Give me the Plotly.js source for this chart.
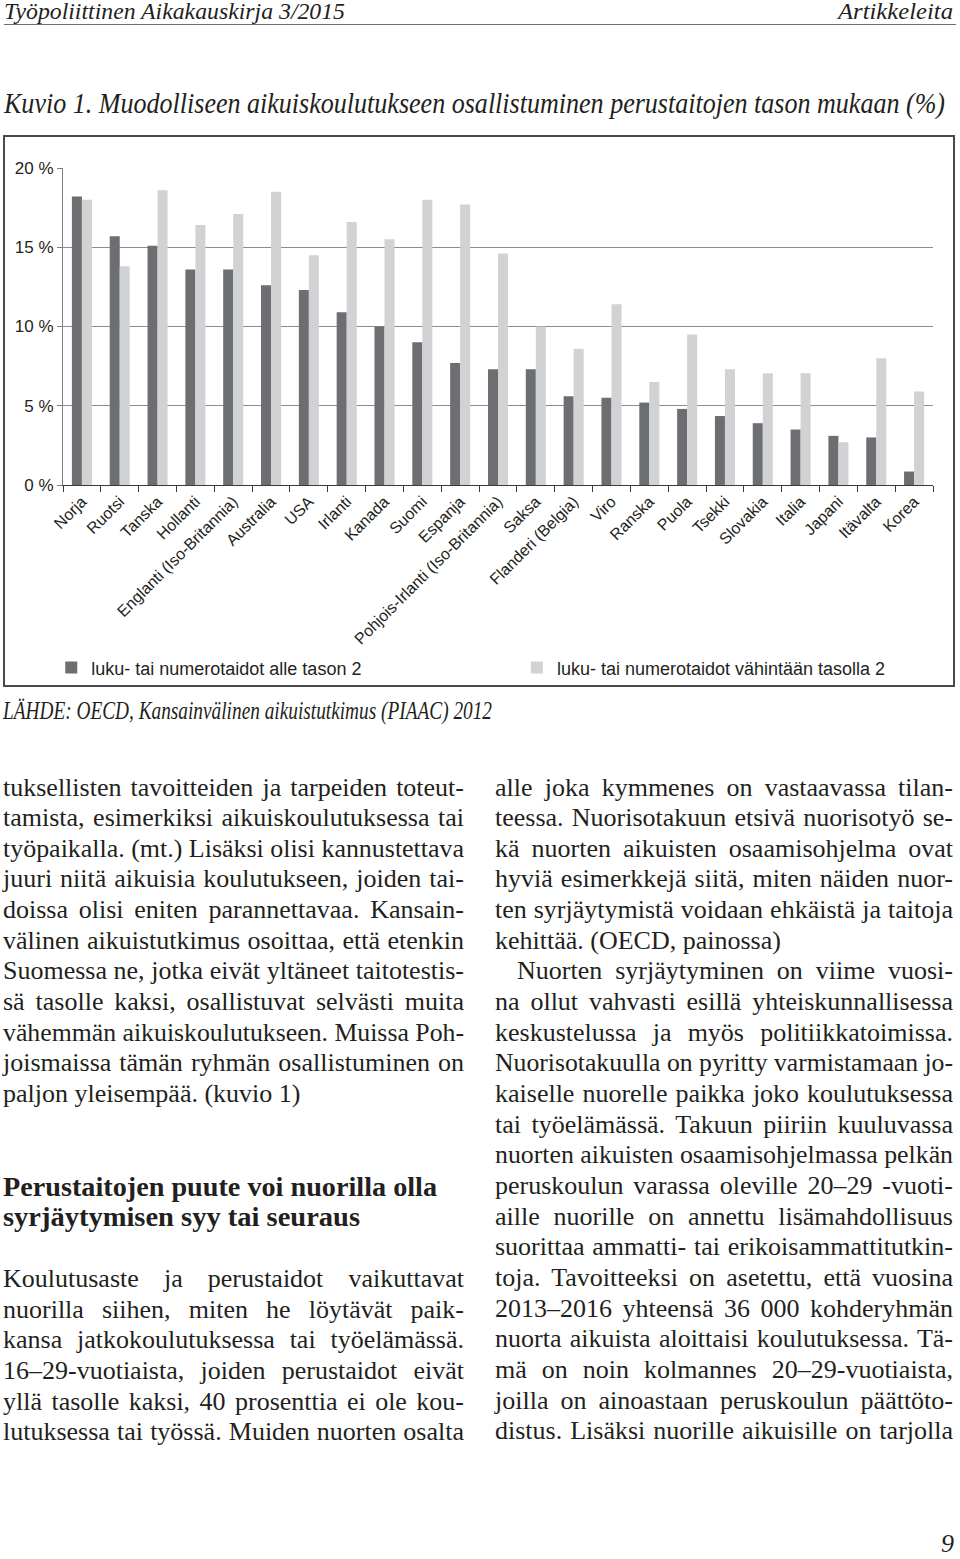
<!DOCTYPE html>
<html>
<head>
<meta charset="utf-8">
<script src="https://cdn.plot.ly/plotly-3.0.1.min.js"></script>
<style>
  html, body { margin: 0; padding: 0; background: #fff; }
  body { width: 960px; height: 1559px; position: relative; overflow: hidden; color: #231f20; font-family: 'Liberation Serif', 'Times New Roman', serif; }
  .abs { position: absolute; white-space: nowrap; }
  .it { font-style: italic; }
  .fit { transform-origin: 0 0; display: inline-block; }
  #chart { position: absolute; left: 3px; top: 135px; width: 948px; height: 548px; border: 2px solid #4a4a4a; }
  .col { position: absolute; top: 772.5px; font-size: 26px; line-height: 30.65px; }
  .ln { white-space: nowrap; }
  .ln.j { text-align: justify; text-align-last: justify; }
  .ind { padding-left: 22px; }
  .head { font-weight: bold; font-size: 27px; line-height: 30.65px; }
</style>
</head>
<body>

<div class="abs it" style="left:4px; top:-1px; font-size:24px; line-height:24px;"><span class="fit" data-w="341">Työpoliittinen Aikakauskirja 3/2015</span></div>
<div class="abs it" style="left:838px; top:-1px; font-size:24px; line-height:24px;"><span class="fit" data-w="115">Artikkeleita</span></div>
<div class="abs" style="left:4px; top:24px; width:952px; height:1px; background:#6d6e71;"></div>

<div class="abs it" style="left:4px; top:88px; font-size:30px; line-height:30px;"><span class="fit" data-w="941">Kuvio 1. Muodolliseen aikuiskoulutukseen osallistuminen perustaitojen tason mukaan (%)</span></div>

<div id="chart"></div>

<div class="abs it" style="left:3px; top:698px; font-size:26px; line-height:26px;"><span class="fit" data-w="489">LÄHDE: OECD, Kansainvälinen aikuistutkimus (PIAAC) 2012</span></div>

<div class="col" style="left:3px; width:461px;">
  <div class="ln j">tuksellisten tavoitteiden ja tarpeiden toteut-</div>
  <div class="ln j">tamista, esimerkiksi aikuiskoulutuksessa tai</div>
  <div class="ln j">työpaikalla. (mt.) Lisäksi olisi kannustettava</div>
  <div class="ln j">juuri niitä aikuisia koulutukseen, joiden tai-</div>
  <div class="ln j">doissa olisi eniten parannettavaa. Kansain-</div>
  <div class="ln j">välinen aikuistutkimus osoittaa, että etenkin</div>
  <div class="ln j">Suomessa ne, jotka eivät yltäneet taitotestis-</div>
  <div class="ln j">sä tasolle kaksi, osallistuvat selvästi muita</div>
  <div class="ln j">vähemmän aikuiskoulutukseen. Muissa Poh-</div>
  <div class="ln j">joismaissa tämän ryhmän osallistuminen on</div>
  <div class="ln">paljon yleisempää. (kuvio 1)</div>
  <div style="height:62px"></div>
  <div class="ln head"><span class="fit" data-w="434">Perustaitojen puute voi nuorilla olla</span></div>
  <div class="ln head"><span class="fit" data-w="357">syrjäytymisen syy tai seuraus</span></div>
  <div style="height:31px"></div>
  <div class="ln j">Koulutusaste ja perustaidot vaikuttavat</div>
  <div class="ln j">nuorilla siihen, miten he löytävät paik-</div>
  <div class="ln j">kansa jatkokoulutuksessa tai työelämässä.</div>
  <div class="ln j">16–29-vuotiaista, joiden perustaidot eivät</div>
  <div class="ln j">yllä tasolle kaksi, 40 prosenttia ei ole kou-</div>
  <div class="ln j">lutuksessa tai työssä. Muiden nuorten osalta</div>
</div>

<div class="col" style="left:495px; width:458px;">
  <div class="ln j">alle joka kymmenes on vastaavassa tilan-</div>
  <div class="ln j">teessa. Nuorisotakuun etsivä nuorisotyö se-</div>
  <div class="ln j">kä nuorten aikuisten osaamisohjelma ovat</div>
  <div class="ln j">hyviä esimerkkejä siitä, miten näiden nuor-</div>
  <div class="ln j">ten syrjäytymistä voidaan ehkäistä ja taitoja</div>
  <div class="ln">kehittää. (OECD, painossa)</div>
  <div class="ln j ind">Nuorten syrjäytyminen on viime vuosi-</div>
  <div class="ln j">na ollut vahvasti esillä yhteiskunnallisessa</div>
  <div class="ln j">keskustelussa ja myös politiikkatoimissa.</div>
  <div class="ln j">Nuorisotakuulla on pyritty varmistamaan jo-</div>
  <div class="ln j">kaiselle nuorelle paikka joko koulutuksessa</div>
  <div class="ln j">tai työelämässä. Takuun piiriin kuuluvassa</div>
  <div class="ln j">nuorten aikuisten osaamisohjelmassa pelkän</div>
  <div class="ln j">peruskoulun varassa oleville 20–29 -vuoti-</div>
  <div class="ln j">aille nuorille on annettu lisämahdollisuus</div>
  <div class="ln j">suorittaa ammatti- tai erikoisammattitutkin-</div>
  <div class="ln j">toja. Tavoitteeksi on asetettu, että vuosina</div>
  <div class="ln j">2013–2016 yhteensä 36 000 kohderyhmän</div>
  <div class="ln j">nuorta aikuista aloittaisi koulutuksessa. Tä-</div>
  <div class="ln j">mä on noin kolmannes 20–29-vuotiaista,</div>
  <div class="ln j">joilla on ainoastaan peruskoulun päättöto-</div>
  <div class="ln j">distus. Lisäksi nuorille aikuisille on tarjolla</div>
</div>

<div class="abs it" style="left:941px; top:1529px; font-size:26px;">9</div>

<script>
// countries in the order of the figure
const countries = [
  'Norja', 'Ruotsi', 'Tanska', 'Hollanti', 'Englanti (Iso-Britannia)', 'Australia',
  'USA', 'Irlanti', 'Kanada', 'Suomi', 'Espanja', 'Pohjois-Irlanti (Iso-Britannia)',
  'Saksa', 'Flanderi (Belgia)', 'Viro', 'Ranska', 'Puola', 'Tsekki', 'Slovakia',
  'Italia', 'Japani', 'Itävalta', 'Korea'
];

// % participating, literacy or numeracy below level 2
const belowLevel2 = [
  18.2, 15.7, 15.1, 13.6, 13.6, 12.6, 12.3, 10.9, 10.0, 9.0, 7.7, 7.3,
  7.3, 5.6, 5.5, 5.2, 4.8, 4.35, 3.9, 3.5, 3.1, 3.0, 0.85
];

// % participating, literacy or numeracy at least level 2
const atLeastLevel2 = [
  18.0, 13.8, 18.6, 16.4, 17.1, 18.5, 14.5, 16.6, 15.5, 18.0, 17.7, 14.6,
  10.0, 8.6, 11.4, 6.5, 9.5, 7.3, 7.05, 7.05, 2.7, 8.0, 5.9
];

const seriesNames = ['luku- tai numerotaidot alle tason 2', 'luku- tai numerotaidot vähintään tasolla 2'];
const yTicks = [0, 5, 10, 15, 20];

const sans = "'Liberation Sans', Arial, Helvetica, sans-serif";

const traces = [
  {
    type: 'bar', x: countries, y: belowLevel2, name: seriesNames[0],
    marker: { color: '#6d6e71', line: { width: 0 } },
    legend: 'legend'
  },
  {
    type: 'bar', x: countries, y: atLeastLevel2, name: seriesNames[1],
    marker: { color: '#d1d2d4', line: { width: 0 } },
    legend: 'legend2'
  }
];

const layout = {
  width: 948,
  height: 548,
  margin: { l: 58, r: 20, t: 31, b: 200, autoexpand: false },
  paper_bgcolor: '#fff',
  plot_bgcolor: '#fff',
  font: { family: sans, size: 16, color: '#231f20' },
  barmode: 'group',
  bargap: 0.47,
  bargroupgap: 0,
  showlegend: true,
  legend: {
    orientation: 'h', x: -0.0135, y: -0.577, xanchor: 'left', yanchor: 'middle',
    font: { family: sans, size: 18, color: '#231f20' }, bgcolor: 'rgba(0,0,0,0)'
  },
  legend2: {
    orientation: 'h', x: 0.5217, y: -0.577, xanchor: 'left', yanchor: 'middle',
    font: { family: sans, size: 18, color: '#231f20' }, bgcolor: 'rgba(0,0,0,0)'
  },
  xaxis: {
    type: 'category',
    tickangle: -45,
    tickson: 'boundaries',
    ticks: 'outside',
    ticklen: 6,
    tickcolor: '#3a3a3a',
    showline: true,
    linecolor: '#3a3a3a',
    linewidth: 1,
    showgrid: false,
    tickfont: { family: sans, size: 16, color: '#231f20' },
    fixedrange: true
  },
  yaxis: {
    range: [0, 20],
    tickvals: yTicks,
    ticktext: yTicks.map(v => v + ' %'),
    ticks: 'outside',
    ticklen: 5,
    tickcolor: '#808080',
    showline: true,
    linecolor: '#808080',
    showgrid: true,
    gridcolor: '#8c8c8c',
    gridwidth: 1,
    zeroline: false,
    tickfont: { family: sans, size: 17, color: '#231f20' },
    fixedrange: true
  }
};

Plotly.newPlot('chart', traces, layout, { staticPlot: true, displayModeBar: false });

// squeeze the condensed headline texts to their printed widths
document.querySelectorAll('.fit').forEach(el => {
  const w = parseFloat(el.dataset.w);
  const s = w / el.getBoundingClientRect().width;
  el.style.transform = 'scaleX(' + s.toFixed(4) + ')';
});

// body lines: shrink horizontally any line that would not fit its column
document.querySelectorAll('.col .ln').forEach(el => {
  if (el.querySelector('.fit')) return;
  const colW = el.clientWidth - (el.classList.contains('ind') ? 22 : 0);
  const probe = document.createElement('span');
  probe.textContent = el.textContent;
  probe.style.whiteSpace = 'nowrap';
  el.textContent = '';
  el.appendChild(probe);
  const natural = probe.getBoundingClientRect().width;
  if (natural > colW) {
    probe.style.display = 'inline-block';
    probe.style.transformOrigin = '0 0';
    probe.style.transform = 'scaleX(' + (colW / natural).toFixed(4) + ')';
  }
});
</script>
</body>
</html>
